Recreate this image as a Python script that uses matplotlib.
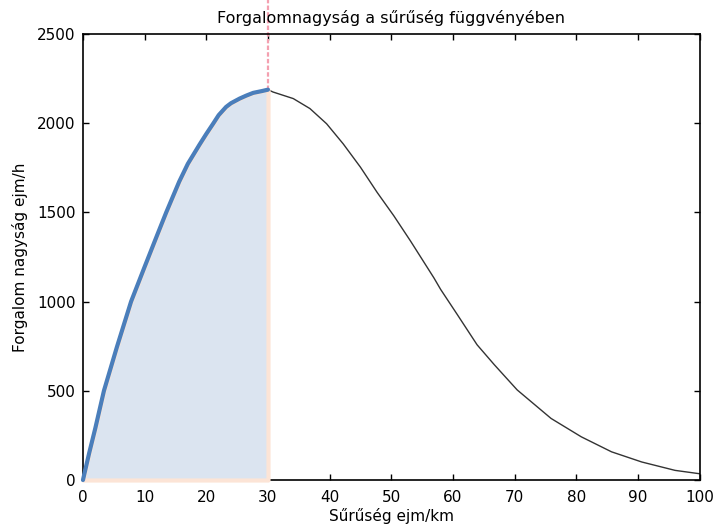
import numpy as np
import matplotlib
matplotlib.use("Agg")
import matplotlib.pyplot as plt

# Sűrűség (ejm/km) és forgalom (ejm/h), a kritikus sűrűségig
dens_up = [0, 1, 2, 3.4, 5.5, 7.8, 10, 12, 13.5, 15.6, 17, 18.9, 20, 21.1, 22,
           23.2, 24, 25.4, 26.5, 27.6, 29, 30]
flow_up = [0, 150, 290, 500, 745, 1000, 1195, 1370, 1500, 1672, 1772, 1880, 1940,
           1997, 2045, 2091, 2112, 2138, 2155, 2170, 2180, 2188]

# a kritikus sűrűség felett
dens_down = [30, 30.8, 34.1, 36.8, 39.5, 42.2, 45.0, 47.7, 50.4, 53.1, 56.9, 58.0,
             60.7, 63.9, 66.7, 70.4, 75.9, 80.8, 85.7, 90.6, 96.0, 100]
flow_down = [2188, 2175, 2138, 2082, 1997, 1884, 1753, 1612, 1481, 1340, 1133, 1068,
             927, 758, 646, 505, 345, 242, 158, 101, 54, 35]

x_ticks = [0, 10, 20, 30, 40, 50, 60, 70, 80, 90, 100]
y_ticks = [0, 500, 1000, 1500, 2000, 2500]

plt.rcParams['font.family'] = ['DejaVu Sans']

fig = plt.figure(figsize=(7.14, 5.28), dpi=100)
ax = fig.add_axes([0.1162, 0.0909, 0.8638, 0.8447])

ax.fill_between(dens_up, flow_up, 0, facecolor="#dbe4f0", edgecolor="#fce4d6",
                linewidth=3, clip_on=False, zorder=3)
ax.plot(dens_up, flow_up, color="#4a7ebb", linewidth=3, solid_capstyle="round",
        clip_on=False, zorder=4)
ax.plot(dens_down, flow_down, color="#333333", linewidth=1.0, zorder=2)

# kritikus sűrűség jelölése a csúcs felett
ax.plot([dens_up[-1], dens_up[-1]], [flow_up[-1], 2720], color="#f4a0b0",
        linestyle=(0, (2, 1)), linewidth=1.6, clip_on=False, zorder=2)

ax.set_xlim(0, 100)
ax.set_ylim(0, 2500)
ax.set_xticks(x_ticks)
ax.set_yticks(y_ticks)
ax.tick_params(direction="in", length=4, width=1, top=True, right=True,
               labelsize=11, colors="black")
ax.tick_params(axis="x", pad=7)
ax.tick_params(axis="y", pad=5.5)
for s in ax.spines.values():
    s.set_linewidth(1.2)

ax.set_title("Forgalomnagyság a sűrűség függvényében", fontsize=11.5, pad=8)
ax.set_xlabel("Sűrűség ejm/km", fontsize=11, labelpad=2)
ax.set_ylabel("Forgalom nagyság ejm/h", fontsize=11, labelpad=6)

fig.savefig("out.png", dpi=100)
